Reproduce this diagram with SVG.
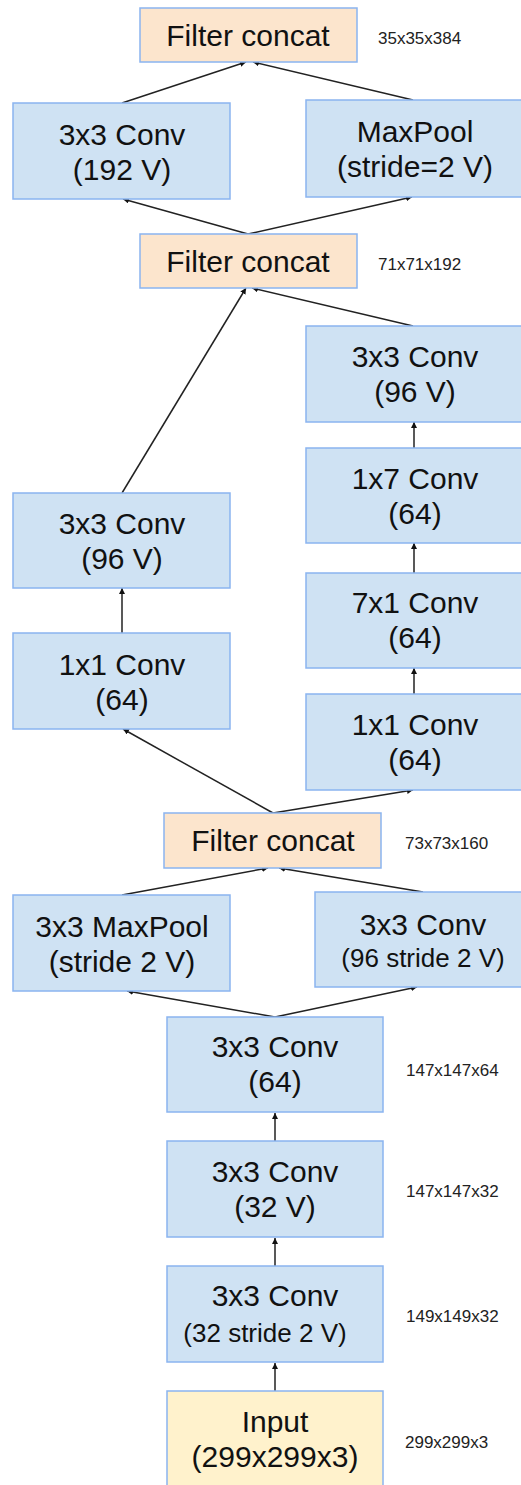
<svg xmlns="http://www.w3.org/2000/svg" width="521" height="1485" viewBox="0 0 521 1485">
<defs>
<style>
.b{fill:#cfe2f3;stroke:#8ab4f0;stroke-width:1.5}
.c{fill:#fce5cd;stroke:#8ab4f0;stroke-width:1.5}
.y{fill:#fff2cc;stroke:#8ab4f0;stroke-width:1.5}
text{font-family:"Liberation Sans",Arial,sans-serif;fill:#111;text-anchor:middle}
.t{font-size:30px}
.s{font-size:26px}
.d{font-size:17px;text-anchor:start;fill:#222}
.e{stroke:#222;stroke-width:1.5;fill:none;marker-end:url(#a)}
</style>
<marker id="a" viewBox="0 0 10 10" refX="10" refY="5" markerWidth="6" markerHeight="6" markerUnits="userSpaceOnUse" orient="auto"><path d="M0,0 L10,5 L0,10 z" fill="#111"/></marker>
</defs>
<rect width="521" height="1485" fill="#fff"/>
<g id="connectors">
<line class="e" x1="122" y1="103" x2="246" y2="62"/>
<line class="e" x1="413" y1="100" x2="253" y2="62"/>
<line class="e" x1="248" y1="234" x2="123" y2="199"/>
<line class="e" x1="248" y1="234" x2="412" y2="197"/>
<line class="e" x1="122" y1="493" x2="246" y2="288"/>
<line class="e" x1="413" y1="326" x2="252" y2="288"/>
<line class="e" x1="414" y1="448" x2="414" y2="422"/>
<line class="e" x1="414" y1="573" x2="414" y2="543"/>
<line class="e" x1="414" y1="694" x2="414" y2="668"/>
<line class="e" x1="122" y1="633" x2="122" y2="588"/>
<line class="e" x1="273" y1="813" x2="123" y2="729"/>
<line class="e" x1="273" y1="813" x2="413" y2="790"/>
<line class="e" x1="122" y1="895" x2="268" y2="868"/>
<line class="e" x1="423" y1="892" x2="279" y2="868"/>
<line class="e" x1="275" y1="1017" x2="127" y2="991"/>
<line class="e" x1="275" y1="1017" x2="417" y2="987"/>
<line class="e" x1="275" y1="1141" x2="275" y2="1113"/>
<line class="e" x1="275" y1="1266" x2="275" y2="1238"/>
<line class="e" x1="275" y1="1391" x2="275" y2="1363"/>
</g>
<g id="concat1"><rect class="c" x="140" y="8" width="217" height="54"/><text class="t" x="248" y="46">Filter concat</text></g>
<text class="d" x="378" y="44">35x35x384</text>
<g id="conv192"><rect class="b" x="13" y="103" width="217" height="96"/><text class="t" x="122" y="145">3x3 Conv</text><text class="t" x="122" y="180">(192 V)</text></g>
<g id="maxpool1"><rect class="b" x="306" y="100" width="220" height="97"/><text class="t" x="415" y="142">MaxPool</text><text class="t" x="415" y="177">(stride=2 V)</text></g>
<g id="concat2"><rect class="c" x="140" y="234" width="217" height="54"/><text class="t" x="248" y="272">Filter concat</text></g>
<text class="d" x="378" y="270">71x71x192</text>
<g id="convR96"><rect class="b" x="306" y="326" width="220" height="96"/><text class="t" x="415" y="367">3x3 Conv</text><text class="t" x="415" y="402">(96 V)</text></g>
<g id="conv1x7"><rect class="b" x="306" y="448" width="220" height="95"/><text class="t" x="415" y="489">1x7 Conv</text><text class="t" x="415" y="524">(64)</text></g>
<g id="conv7x1"><rect class="b" x="306" y="573" width="220" height="95"/><text class="t" x="415" y="613">7x1 Conv</text><text class="t" x="415" y="648">(64)</text></g>
<g id="convR1x1"><rect class="b" x="306" y="694" width="220" height="96"/><text class="t" x="415" y="735">1x1 Conv</text><text class="t" x="415" y="770">(64)</text></g>
<g id="convL96"><rect class="b" x="13" y="493" width="217" height="95"/><text class="t" x="122" y="534">3x3 Conv</text><text class="t" x="122" y="569">(96 V)</text></g>
<g id="convL1x1"><rect class="b" x="13" y="633" width="217" height="96"/><text class="t" x="122" y="675">1x1 Conv</text><text class="t" x="122" y="710">(64)</text></g>
<g id="concat3"><rect class="c" x="164" y="813" width="217" height="55"/><text class="t" x="273" y="851">Filter concat</text></g>
<text class="d" x="405" y="849">73x73x160</text>
<g id="maxpool2"><rect class="b" x="13" y="895" width="217" height="96"/><text class="t" x="122" y="937">3x3 MaxPool</text><text class="t" x="122" y="972">(stride 2 V)</text></g>
<g id="conv96s2"><rect class="b" x="315" y="892" width="211" height="95"/><text class="t" x="423" y="935">3x3 Conv</text><text class="s" x="423" y="967">(96 stride 2 V)</text></g>
<g id="conv64"><rect class="b" x="167" y="1017" width="216" height="95"/><text class="t" x="275" y="1057">3x3 Conv</text><text class="t" x="275" y="1092">(64)</text></g>
<text class="d" x="406" y="1076">147x147x64</text>
<g id="conv32"><rect class="b" x="167" y="1141" width="216" height="96"/><text class="t" x="275" y="1182">3x3 Conv</text><text class="t" x="275" y="1217">(32 V)</text></g>
<text class="d" x="406" y="1197">147x147x32</text>
<g id="conv32s2"><rect class="b" x="167" y="1266" width="216" height="96"/><text class="t" x="275" y="1306">3x3 Conv</text><text class="s" x="265" y="1342">(32 stride 2 V)</text></g>
<text class="d" x="406" y="1322">149x149x32</text>
<g id="input"><rect class="y" x="167" y="1391" width="216" height="100"/><text class="t" x="275" y="1432">Input</text><text class="t" x="275" y="1467">(299x299x3)</text></g>
<text class="d" x="405" y="1448">299x299x3</text>
</svg>
